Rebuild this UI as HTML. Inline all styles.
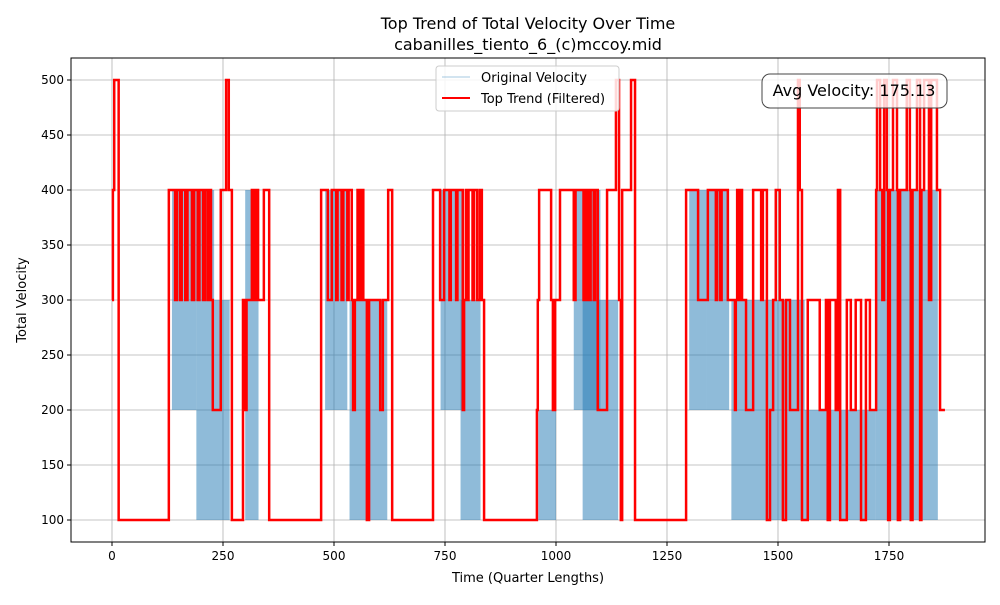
<!DOCTYPE html>
<html><head><meta charset="utf-8"><style>
body{margin:0;background:#fff;font-family:"Liberation Sans","DejaVu Sans",sans-serif}
svg text{font-family:"DejaVu Sans","Liberation Sans",sans-serif}
</style></head><body>
<svg id="chart" width="1000" height="600" xmlns="http://www.w3.org/2000/svg">
<rect width="1000" height="600" fill="#fff"/>
<text x="528" y="29" text-anchor="middle" font-size="16">Top Trend of Total Velocity Over Time</text>
<text x="528" y="50" text-anchor="middle" font-size="16">cabanilles_tiento_6_(c)mccoy.mid</text>
<g id="grid"></g><g id="blue"></g><g id="red"></g><g id="axes"></g>
<rect x="71" y="58" width="914" height="484" fill="none" stroke="#000" stroke-width="1"/>
<text x="528" y="582" text-anchor="middle" font-size="13">Time (Quarter Lengths)</text>
<text transform="translate(26,300) rotate(-90)" text-anchor="middle" font-size="13">Total Velocity</text>
<g>
<rect x="436" y="66" width="183" height="45" rx="3" fill="#fff" fill-opacity="0.85" stroke="#ccc"/>
<line x1="442" y1="77" x2="470" y2="77" stroke="#1f77b4" stroke-opacity="0.4" stroke-width="1"/>
<text x="481" y="82" font-size="13">Original Velocity</text>
<line x1="442" y1="98" x2="470" y2="98" stroke="#f00" stroke-width="2"/>
<text x="481" y="103" font-size="13">Top Trend (Filtered)</text>
</g>
<g>
<rect x="762" y="74" width="185" height="34" rx="8" fill="#fff" fill-opacity="0.8" stroke="#444"/>
<text x="854" y="96" text-anchor="middle" font-size="16">Avg Velocity: 175.13</text>
</g>
</svg>
<script>
const xTicks=[0,250,500,750,1000,1250,1500,1750];
const yTicks=[100,150,200,250,300,350,400,450,500];
const trendX=[0,2,5,15,128,142,146,153,157,165,170,180,185,193,197,205,210,216,220,223,227,245,257,263,270,295,300,303,315,320,325,329,342,354,
471,486,495,505,508,517,521,530,533,540,543,547,553,557,562,566,574,579,604,610,622,631,
723,739,748,760,763,775,778,790,793,797,800,803,812,815,822,828,833,838,
957,959,962,989,993,998,1009,1040,1044,1062,1066,1070,1072,1075,1078,1085,1088,1094,1115,1135,1142,1146,1149,1169,1178,
1293,1320,1342,1360,1363,1370,1373,1387,1403,1405,1408,1412,1415,1419,1428,1444,1462,1466,1475,1482,1489,1495,1504,1511,1518,1527,1545,1549,1554,1567,1594,1608,1612,1617,1630,1635,1640,1655,1664,1675,1687,1698,1707,1721,1723,1730,1735,1739,1745,1748,1752,1759,1768,1770,1775,1790,1797,1799,1803,1813,1820,1823,1829,1840,1845,1858,1865,1876];
const trendY=[300,400,500,100,400,300,400,300,400,300,400,300,400,300,400,300,400,300,400,300,200,400,500,400,100,300,200,300,400,300,400,300,400,100,
400,300,400,300,400,300,400,300,400,300,200,300,400,300,400,300,100,300,200,300,400,100,
400,300,400,300,400,300,400,200,300,400,300,400,300,400,300,400,300,100,
200,300,400,300,200,300,400,300,400,300,400,300,400,300,400,300,400,200,400,500,300,100,400,500,100,
400,300,400,300,400,300,400,300,200,300,400,300,400,300,200,400,300,400,100,200,300,400,300,100,300,200,500,400,100,300,200,300,100,300,200,400,100,300,200,300,100,300,200,400,500,400,300,500,400,100,400,500,400,100,400,500,400,100,400,500,100,400,500,300,500,400,200,200];
const blueStart=[135,190,190,300,480,535,580,740,785,960,1040,1060,1300,1340,1395,1480,1560,1720];
const blueEnd=[190,265,230,330,530,580,620,790,830,1000,1100,1140,1340,1390,1480,1560,1720,1860];
const blueLow=[200,100,300,100,200,100,100,200,100,100,200,100,200,200,100,100,100,100];
const blueHigh=[400,300,400,400,400,300,300,400,300,200,400,300,400,400,300,300,200,400];
const X=v=>112+v*0.444, Y=v=>520-(v-100)*1.1;
const NS="http://www.w3.org/2000/svg";
function mk(t,a,p){const e=document.createElementNS(NS,t);for(const k in a)e.setAttribute(k,a[k]);p.appendChild(e);return e;}
const grid=document.getElementById('grid'),axes=document.getElementById('axes');
xTicks.forEach(t=>{
 const g=mk('line',{x1:X(t),x2:X(t),y1:58,y2:542,stroke:'#b0b0b0','stroke-width':0.8},grid);
 
 
 mk('line',{x1:X(t),x2:X(t),y1:542,y2:546,stroke:'#000'},axes);
 const tx=mk('text',{x:X(t),y:560,'text-anchor':'middle','font-size':12},axes);tx.textContent=t;
 
 
});
yTicks.forEach(t=>{
 const g=mk('line',{x1:71,x2:985,y1:Y(t),y2:Y(t),stroke:'#b0b0b0','stroke-width':0.8},grid);
 
 
 mk('line',{x1:67,x2:71,y1:Y(t),y2:Y(t),stroke:'#000'},axes);
 const tx=mk('text',{x:64,y:Y(t)+4,'text-anchor':'end','font-size':12},axes);tx.textContent=t;
 
 
});
const blue=document.getElementById('blue');
blueStart.forEach((s,i)=>{
 const r=mk('rect',{x:X(s),y:Y(blueHigh[i]),width:X(blueEnd[i])-X(s),height:Y(blueLow[i])-Y(blueHigh[i]),fill:'#1f77b4','fill-opacity':0.5},blue);
 
 
});
let d='';
trendX.forEach((x,i)=>{d+=(i?'H'+X(x)+'V'+Y(trendY[i]):'M'+X(x)+','+Y(trendY[i]));});
const p=mk('path',{d:d,fill:'none',stroke:'#f00','stroke-width':2.5},document.getElementById('red'));


</script>
</body></html>
